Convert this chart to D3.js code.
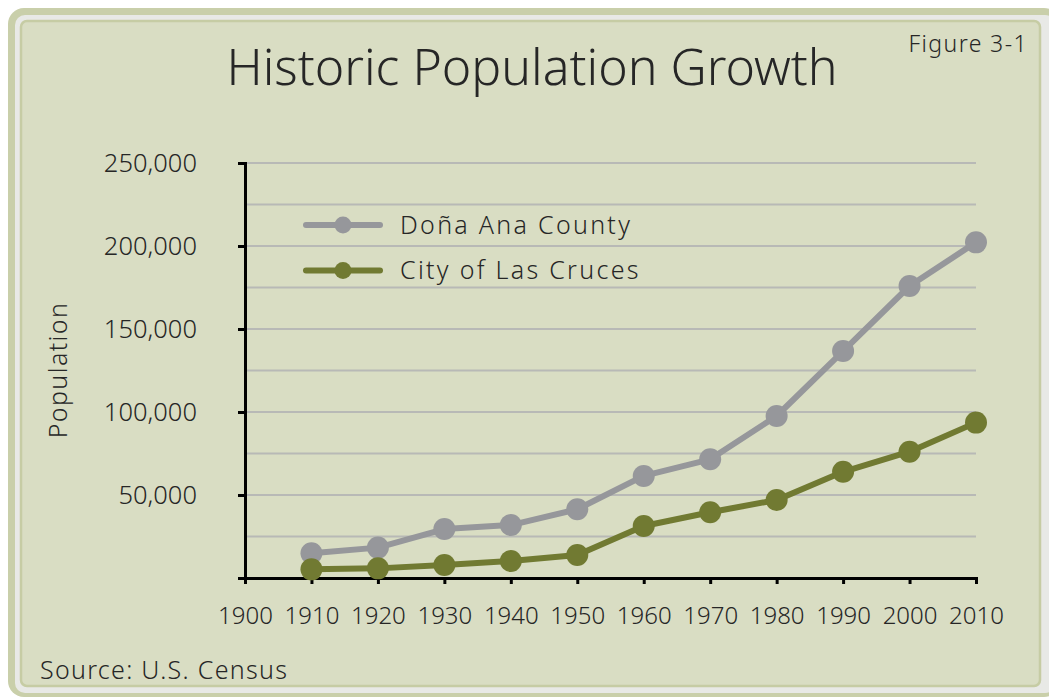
<!DOCTYPE html>
<html><head><meta charset="utf-8">
<script src="https://cdn.jsdelivr.net/npm/d3@7"></script>
<style>body{margin:0;background:#fff}svg{display:block}text{font-family:"Noto Sans",sans-serif;font-weight:300;fill:#262626}</style>
</head><body><svg id="c" width="1049" height="698"></svg>
<script>
const years = [1910,1920,1930,1940,1950,1960,1970,1980,1990,2000,2010];
const donaAna = [14900,18300,29500,31900,41400,61500,71500,97600,136700,175900,202200];
const lasCruces = [5200,5800,7800,10200,13900,31300,39600,47000,64000,76100,93600];
const seriesNames = ["Doña Ana County","City of Las Cruces"];
const seriesColors = ["#96979b","#717a32"];
const xTicks = [1900,1910,1920,1930,1940,1950,1960,1970,1980,1990,2000,2010];
const yTicks = [0,50000,100000,150000,200000,250000];
const yGrid = [25000,50000,75000,100000,125000,150000,175000,200000,225000,250000];

const svg = d3.select("#c");
// frame
svg.append("rect").attr("x",8).attr("y",8).attr("width",1052).attr("height",689).attr("rx",16).attr("fill","#c9cfaa");
svg.append("rect").attr("x",15).attr("y",15).attr("width",1040).attr("height",678).attr("rx",10).attr("fill","#e8e9e6");
svg.append("rect").attr("x",21).attr("y",21).attr("width",1019).attr("height",665).attr("rx",6).attr("fill","#d9ddc3").attr("stroke","#c6cca4").attr("stroke-width",2.5);

const x = d3.scaleLinear().domain([1900,2010]).range([245,976]);
const y = d3.scaleLinear().domain([0,250000]).range([578,163]);

// grid
svg.append("g").selectAll("line").data(yGrid).join("line")
  .attr("x1",245).attr("x2",976).attr("y1",d=>y(d)).attr("y2",d=>y(d))
  .attr("stroke","#b8b9b6").attr("stroke-width",2);

// axes
const yAxis = svg.append("g").attr("transform","translate(245,0)")
  .call(d3.axisLeft(y).tickValues(yTicks).tickFormat(d=>d===0?"":d3.format(",")(d)).tickSize(7).tickPadding(41));
const xAxis = svg.append("g").attr("transform","translate(0,578)")
  .call(d3.axisBottom(x).tickValues(xTicks).tickFormat(d3.format("d")).tickSize(6).tickPadding(23));
[yAxis,xAxis].forEach(a=>{
  a.select(".domain").attr("stroke","#000").attr("stroke-width",3);
  a.selectAll(".tick line").attr("stroke","#000").attr("stroke-width",3);
  a.selectAll("text").style("font-family","Noto Sans").style("font-weight",300).attr("fill","#262626");
});
yAxis.selectAll("text").style("font-size","25.5px");
xAxis.selectAll("text").style("font-size","24px");

// series
const data = [donaAna, lasCruces];
const line = d3.line().x((d,i)=>x(years[i])).y(d=>y(d));
data.forEach((s,k)=>{
  svg.append("path").datum(s).attr("d",line).attr("fill","none")
    .attr("stroke",seriesColors[k]).attr("stroke-width",6).attr("stroke-linejoin","round");
});
data.forEach((s,k)=>{
  svg.append("g").selectAll("circle").data(s).join("circle")
    .attr("cx",(d,i)=>x(years[i])).attr("cy",d=>y(d)).attr("r",11).attr("fill",seriesColors[k]);
});

// legend
const lg = svg.append("g");
seriesNames.forEach((n,k)=>{
  const ly = 225 + k*45.5;
  lg.append("line").attr("x1",306).attr("x2",380).attr("y1",ly).attr("y2",ly).attr("stroke",seriesColors[k]).attr("stroke-width",6).attr("stroke-linecap","round");
  lg.append("circle").attr("cx",343).attr("cy",ly).attr("r",8.5).attr("fill",seriesColors[k]);
  lg.append("text").attr("x",400).attr("y",ly).attr("dy","0.35em").style("font-size","25px").style("letter-spacing","2.3px").text(n);
});

// texts
svg.append("text").attr("x",532).attr("y",85).attr("text-anchor","middle").style("font-size","50px").text("Historic Population Growth");
svg.append("text").attr("x",1028).attr("y",52).attr("text-anchor","end").style("font-size","23px").style("letter-spacing","1.4px").text("Figure 3-1");
svg.append("text").attr("transform","translate(67,370) rotate(-90)").attr("text-anchor","middle").style("font-size","25px").style("letter-spacing","1.4px").text("Population");
svg.append("text").attr("x",40).attr("y",679).style("font-size","25px").style("letter-spacing","1.3px").text("Source: U.S. Census");
</script></body></html>
